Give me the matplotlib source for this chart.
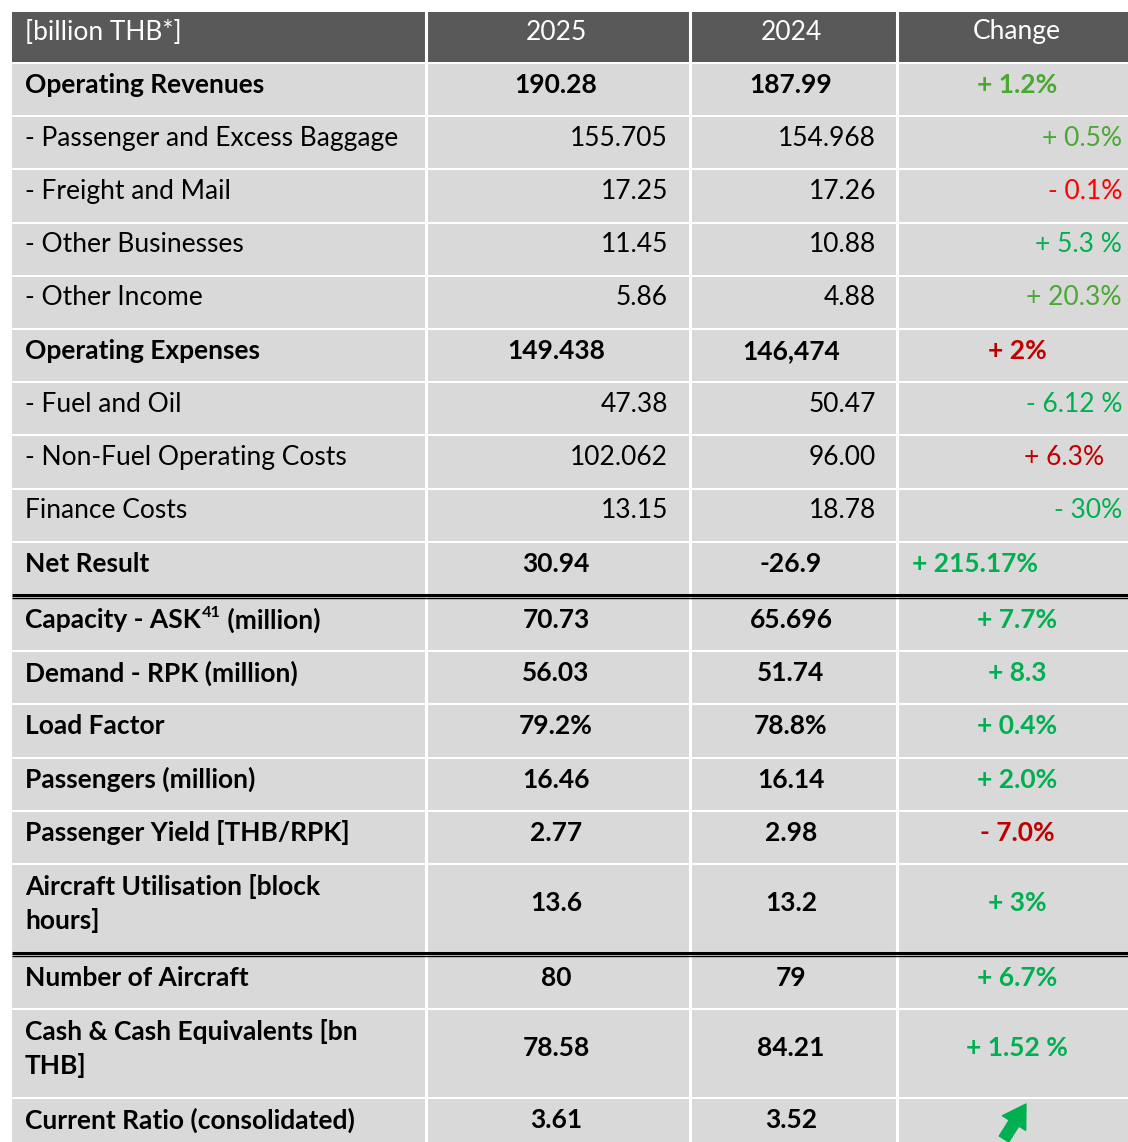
import matplotlib
matplotlib.use("Agg")
import matplotlib.pyplot as plt
from matplotlib.patches import Rectangle

# datos de la tabla
header = ["[billion THB*]", "2025", "2024", "Change"]

labels = [
    "Operating Revenues",
    "- Passenger and Excess Baggage",
    "- Freight and Mail",
    "- Other Businesses",
    "- Other Income",
    "Operating Expenses",
    "- Fuel and Oil",
    "- Non-Fuel Operating Costs",
    "Finance Costs",
    "Net Result",
    "Capacity - ASK|41| (million)",
    "Demand - RPK (million)",
    "Load Factor",
    "Passengers (million)",
    "Passenger Yield [THB/RPK]",
    "Aircraft Utilisation [block\nhours]",
    "Number of Aircraft",
    "Cash & Cash Equivalents [bn\nTHB]",
    "Current Ratio (consolidated)",
]
values_2025 = ["190.28", "155.705", "17.25", "11.45", "5.86", "149.438", "47.38",
               "102.062", "13.15", "30.94", "70.73", "56.03", "79.2%", "16.46",
               "2.77", "13.6", "80", "78.58", "3.61"]
values_2024 = ["187.99", "154.968", "17.26", "10.88", "4.88", "146,474", "50.47",
               "96.00", "18.78", "-26.9", "65.696", "51.74", "78.8%", "16.14",
               "2.98", "13.2", "79", "84.21", "3.52"]
changes = ["+ 1.2%", "+ 0.5%", "- 0.1%", "+ 5.3 %", "+ 20.3%", "+ 2%", "- 6.12 %",
           "+ 6.3%", "- 30%", "+ 215.17%", "+ 7.7%", "+ 8.3", "+ 0.4%", "+ 2.0%",
           "- 7.0%", "+ 3%", "+ 6.7%", "+ 1.52 %", ""]

# estilos
bold = [True, False, False, False, False, True, False, False, False, True,
        True, True, True, True, True, True, True, True, True]
chg_align = ["c", "r", "r", "r", "r", "c", "r", "r", "r", "l",
             "c", "c", "c", "c", "c", "c", "c", "c", "c"]
chg_color = ["#4aa832", "#4aa832", "#ff0000", "#00b050", "#4aa832", "#c00000",
             "#00b050", "#c00000", "#00b050", "#00b050", "#00b050", "#00b050",
             "#00b050", "#00b050", "#c00000", "#00b050", "#00b050", "#00b050",
             "#00b050"]
double_after = [9, 15]  # doble linea despues de estas filas

W, H = 1128, 1142
fig = plt.figure(figsize=(W / 100, H / 100), dpi=100)
ax = fig.add_axes([0, 0, 1, 1])
ax.set_xlim(0, W)
ax.set_ylim(H, 0)
ax.axis("off")

FONT = "Lato"
FS = 19
GREY = "#d9d9d9"
DARK = "#595959"

col_edges = [12, 426, 690, 897, 1135]
left_x = 25
center_x = [556, 791, 1017]
right_x = [668, 876, 1122]

# encabezado
top = 12
ax.add_patch(Rectangle((12, top), W, 50, color=DARK, lw=0))
ax.text(left_x, top + 20, header[0], color="white", fontsize=FS, family=FONT,
        va="center", ha="left")
for j in range(3):
    ax.text(center_x[j], top + 20, header[j + 1], color="white", fontsize=FS,
            family=FONT, va="center", ha="center")

# filas
y = 64
fig.canvas.draw()
renderer = fig.canvas.get_renderer()
for i, lab in enumerate(labels):
    nlines = lab.count("\n") + 1
    h = 51.2 if nlines == 1 else 87
    ax.add_patch(Rectangle((12, y), W, h + 10, color=GREY, lw=0))
    fw = "bold" if bold[i] else "normal"
    ty = y + 21
    # etiqueta
    for k, line in enumerate(lab.split("\n")):
        if "|" in line:
            a, sup, b = line.split("|")
            t = ax.text(left_x, ty, a, fontsize=FS, family=FONT, weight=fw,
                        va="center", ha="left")
            bb = t.get_window_extent(renderer)
            x2 = bb.x1
            t2 = ax.text(x2 + 1, ty - 7, sup, fontsize=FS * 0.62, family=FONT,
                         weight=fw, va="center", ha="left")
            bb2 = t2.get_window_extent(renderer)
            ax.text(bb2.x1, ty, b, fontsize=FS, family=FONT, weight=fw,
                    va="center", ha="left")
        else:
            ax.text(left_x, ty + 34 * k, line, fontsize=FS, family=FONT,
                    weight=fw, va="center", ha="left")
    vy = ty + 17 * (nlines - 1)
    # valores
    for j, v in enumerate([values_2025[i], values_2024[i]]):
        if bold[i]:
            ax.text(center_x[j], vy, v, fontsize=FS, family=FONT, weight=fw,
                    va="center", ha="center")
        else:
            ax.text(right_x[j], vy, v, fontsize=FS, family=FONT, weight=fw,
                    va="center", ha="right")
    # cambio
    al = chg_align[i]
    if al == "c":
        cx, ha = center_x[2], "center"
    elif al == "r":
        cx, ha = right_x[2], "right"
    else:
        cx, ha = 912, "left"
    if changes[i] == "+ 6.3%":
        cx = 1104
    ax.text(cx, vy, changes[i], fontsize=FS, family=FONT, weight=fw,
            color=chg_color[i], va="center", ha=ha)
    y_end = y + h
    # linea blanca horizontal entre filas
    ax.add_patch(Rectangle((12, y_end), W, 2, color="white", lw=0, zorder=1.5))
    if i in double_after:
        ax.plot([12, W], [y_end + 0.5, y_end + 0.5], color="black", lw=2.2,
                solid_capstyle="butt", zorder=3)
        ax.plot([12, W], [y_end + 4, y_end + 4], color="black", lw=1.0,
                solid_capstyle="butt", zorder=3)
        y = y_end + 5
    else:
        y = y_end + 2

# lineas verticales blancas
for x in col_edges[1:4]:
    ax.plot([x, x], [12, H], color="white", lw=2.2, zorder=2)

# flecha verde en la ultima fila
ax.annotate("", xy=(1026, 1104), xytext=(1004, 1139),
            arrowprops=dict(arrowstyle="simple,head_length=0.9,head_width=1.1,tail_width=0.45",
                            color="#00b050", mutation_scale=18,
                            shrinkA=0, shrinkB=0))

fig.savefig("out.png", dpi=100, facecolor="white")
